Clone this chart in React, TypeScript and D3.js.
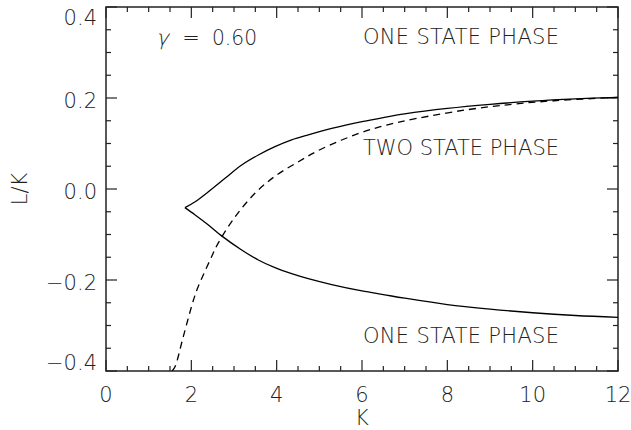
import React from "react";
import * as d3 from "d3";

// Phase boundary: upper branch of the cusp
const upperK = [1.85, 2.09, 2.40, 2.79, 3.18, 3.57, 3.96, 4.35, 4.74, 5.29, 6.0, 6.5, 7.0, 8.0, 9.0, 10.0, 11.0, 12.0];
const upperL = [-0.041, -0.028, -0.006, 0.0235, 0.0527, 0.0747, 0.093, 0.108, 0.119, 0.133, 0.148, 0.157, 0.165, 0.177, 0.186, 0.193, 0.198, 0.2015];

// Phase boundary: lower branch of the cusp
const lowerK = [1.85, 2.09, 2.40, 2.71, 3.18, 3.57, 3.96, 4.35, 4.74, 5.29, 6.0, 6.5, 7.0, 8.0, 9.0, 10.0, 11.0, 12.0];
const lowerL = [-0.041, -0.057, -0.079, -0.103, -0.134, -0.156, -0.173, -0.186, -0.197, -0.210, -0.224, -0.232, -0.240, -0.254, -0.264, -0.272, -0.278, -0.282];

// Dashed reference curve
const dashK = [1.55, 1.62, 1.81, 2.05, 2.16, 2.44, 2.63, 3.02, 3.49, 3.96, 4.51, 5.05, 5.95, 6.6, 7.28, 8.45, 9.5, 10.5, 12.0];
const dashL = [-0.40, -0.39, -0.325, -0.244, -0.215, -0.156, -0.119, -0.062, -0.0095, 0.028, 0.060, 0.088, 0.123, 0.141, 0.155, 0.174, 0.186, 0.194, 0.2015];

const xTicks = [0, 2, 4, 6, 8, 10, 12];
const yTicks = [-0.4, -0.2, 0.0, 0.2, 0.4];
const xMinor = d3.range(0, 12.001, 0.5);
const yMinor = d3.range(-0.4, 0.4001, 0.05);

const W = 631;
const H = 430;
const left = 106;
const right = 618;
const top = 7;
const bottom = 371;

const ink = "#222";
const font = "'DejaVu Sans', 'Liberation Sans', sans-serif";
const weight = 200;

export default function App() {
  const x = d3.scaleLinear().domain([0, 12]).range([left, right]);
  const y = d3.scaleLinear().domain([-0.4, 0.4]).range([bottom, top]);

  const line = d3
    .line<[number, number]>()
    .x((d) => x(d[0]))
    .y((d) => y(d[1]))
    .curve(d3.curveCatmullRom.alpha(0.5));

  const upper = upperK.map((k, i) => [k, upperL[i]] as [number, number]);
  const lower = lowerK.map((k, i) => [k, lowerL[i]] as [number, number]);
  const dashed = dashK.map((k, i) => [k, dashL[i]] as [number, number]);

  const isMajorX = (v: number) => Math.abs(v / 2 - Math.round(v / 2)) < 1e-6;
  const isMajorY = (v: number) => Math.abs(v / 0.2 - Math.round(v / 0.2)) < 1e-6;

  const yLabelDy = (v: number) => (v > 0.39 ? 18 : v < -0.39 ? -1 : 9.5);

  const textProps = { fontFamily: font, fontWeight: weight, fill: ink };

  return (
    <svg width={W} height={H} style={{ position: "absolute", left: 0, top: 0, background: "#fff" }}>
      <defs>
        <clipPath id="plot-area">
          <rect x={left} y={top} width={right - left} height={bottom - top} />
        </clipPath>
      </defs>

      {/* frame */}
      <rect x={left} y={top} width={right - left} height={bottom - top} fill="none" stroke={ink} strokeWidth={1.5} />

      {/* x ticks, bottom and top */}
      {xMinor.map((v) => {
        const len = isMajorX(v) ? 11 : 5;
        return (
          <g key={"xt" + v}>
            <line x1={x(v)} x2={x(v)} y1={bottom} y2={bottom - len} stroke={ink} strokeWidth={1.2} />
            <line x1={x(v)} x2={x(v)} y1={top} y2={top + len} stroke={ink} strokeWidth={1.2} />
          </g>
        );
      })}
      {/* y ticks, left and right */}
      {yMinor.map((v) => {
        const len = isMajorY(v) ? 11 : 5;
        return (
          <g key={"yt" + v.toFixed(2)}>
            <line x1={left} x2={left + len} y1={y(v)} y2={y(v)} stroke={ink} strokeWidth={1.2} />
            <line x1={right} x2={right - len} y1={y(v)} y2={y(v)} stroke={ink} strokeWidth={1.2} />
          </g>
        );
      })}

      {/* tick labels */}
      {xTicks.map((v) => (
        <text key={"xl" + v} x={x(v)} y={402} textAnchor="middle" fontSize={21} {...textProps}>
          {v}
        </text>
      ))}
      {yTicks.map((v) => (
        <text key={"yl" + v} x={97} y={y(v) + yLabelDy(v)} textAnchor="end" fontSize={21} {...textProps}>
          {v < 0 ? "\u2212" + Math.abs(v).toFixed(1) : v.toFixed(1)}
        </text>
      ))}

      {/* axis titles */}
      <text x={362} y={425} textAnchor="middle" fontSize={21} {...textProps}>
        K
      </text>
      <text transform={`translate(27,189) rotate(-90)`} textAnchor="middle" fontSize={21} {...textProps}>
        L/K
      </text>

      {/* curves */}
      <g clipPath="url(#plot-area)" fill="none" stroke="#000" strokeWidth={1.3}>
        <path d={line(upper) || ""} />
        <path d={line(lower) || ""} />
        <path d={line(dashed) || ""} strokeDasharray="7,5" />
      </g>

      {/* annotations */}
      <text transform="translate(156,45) skewX(-14)" x={0} y={0} fontSize={21} {...textProps}>
        γ
      </text>
      <text x={191} y={45} textAnchor="middle" fontSize={21} {...textProps}>
        =
      </text>
      <text x={212} y={45} fontSize={21} textLength={45} lengthAdjust="spacingAndGlyphs" {...textProps}>
        0.60
      </text>
      <text x={363} y={44} fontSize={21} textLength={196} lengthAdjust="spacing" {...textProps}>
        ONE STATE PHASE
      </text>
      <text x={363} y={155} fontSize={21} textLength={196} lengthAdjust="spacing" {...textProps}>
        TWO STATE PHASE
      </text>
      <text x={363} y={343} fontSize={21} textLength={196} lengthAdjust="spacing" {...textProps}>
        ONE STATE PHASE
      </text>
    </svg>
  );
}
